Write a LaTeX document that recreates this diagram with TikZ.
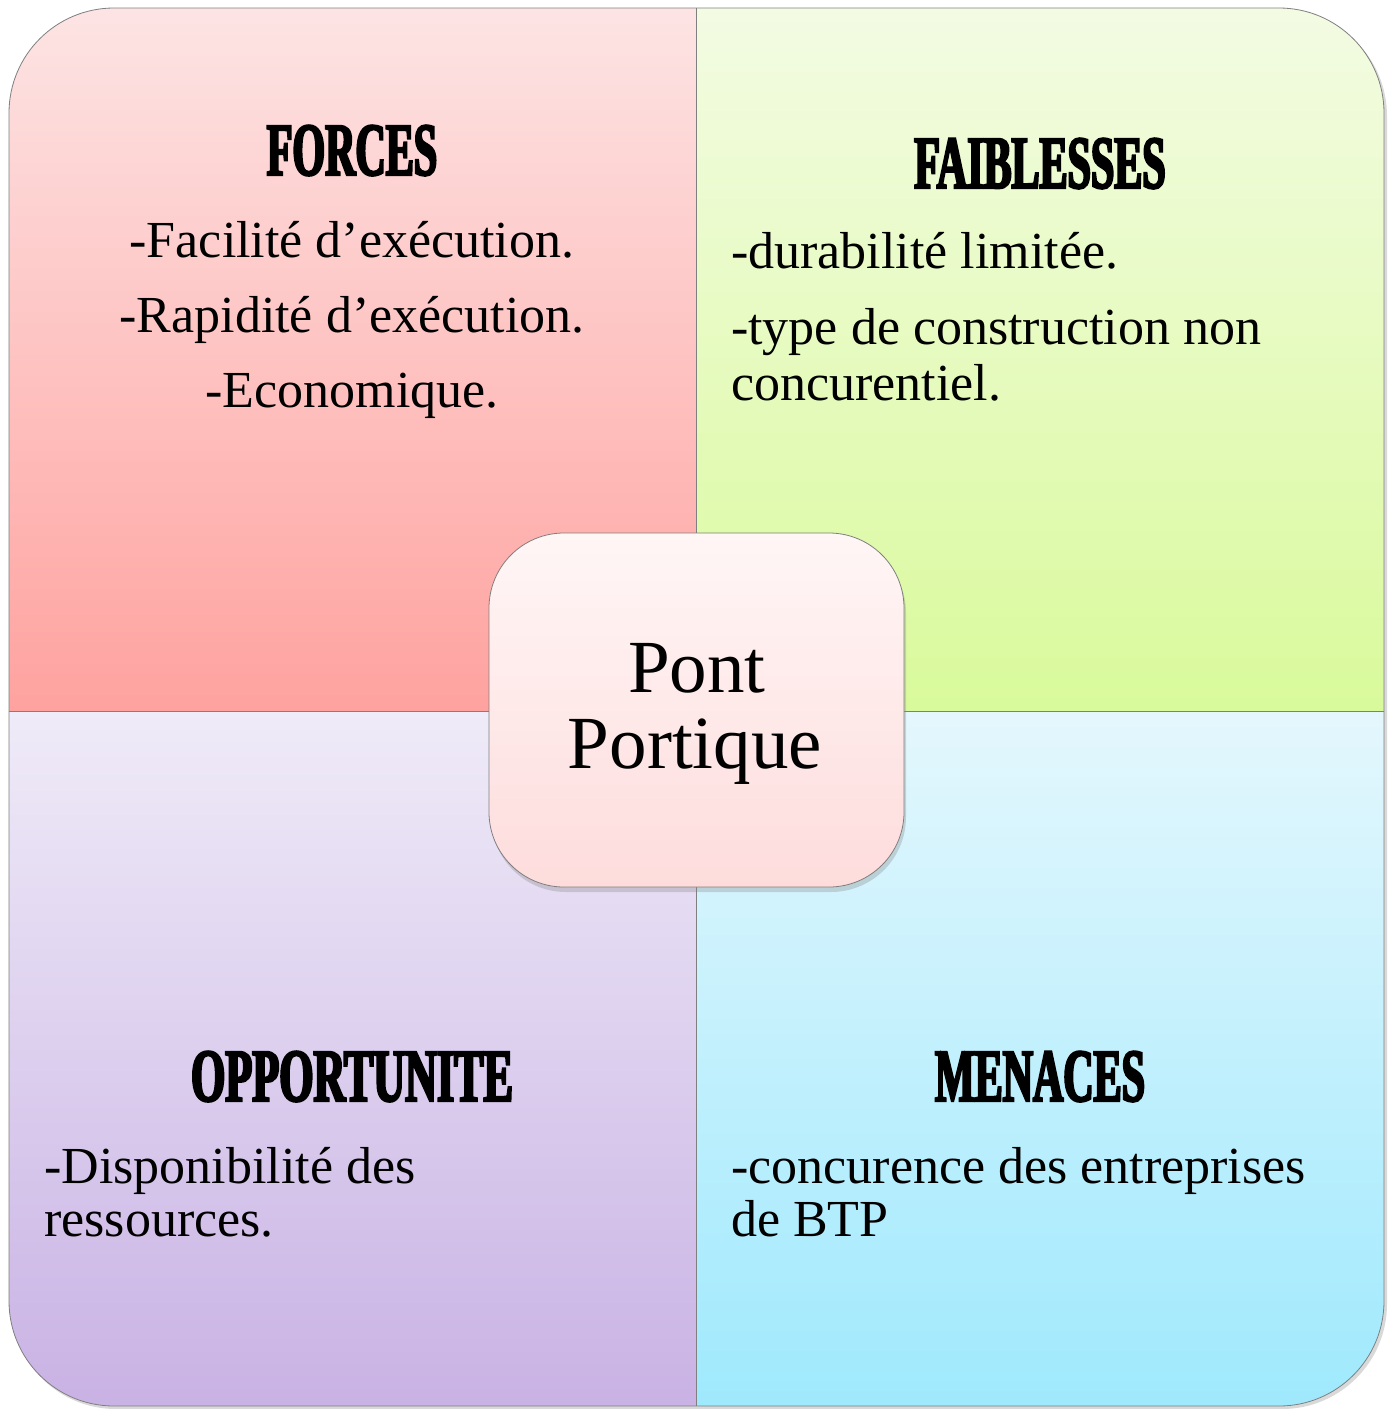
\documentclass[tikz,border=0pt]{standalone}
\usepackage{fontspec}
\setmainfont{Liberation Serif}
\newfontfamily\headfont{Liberation Serif}[FakeStretch=0.56,FakeBold=3]
\usetikzlibrary{shadows}
\definecolor{tltop}{HTML}{FDE4E4}\definecolor{tlbot}{HTML}{FEA29F}
\definecolor{trtop}{HTML}{F3FBE3}\definecolor{trbot}{HTML}{D9FA9B}
\definecolor{bltop}{HTML}{EFEBF8}\definecolor{blbot}{HTML}{C9B2E4}
\definecolor{brtop}{HTML}{E4F7FD}\definecolor{brbot}{HTML}{9FE9FD}
\definecolor{ctop}{HTML}{FFF6F6}\definecolor{cbot}{HTML}{FEDCDC}
\definecolor{edge}{HTML}{7F7F7F}
\tikzset{
  heading/.style={font=\headfont\bfseries\fontsize{75}{75}\selectfont, inner sep=0pt, anchor=base},
  body/.style={font=\fontsize{52}{52}\selectfont, inner sep=0pt},
  bodyc/.style={body, anchor=base},
  bodyl/.style={body, anchor=base west},
  quad/.style={draw=edge, line width=0.8pt},
}
\begin{document}
\begin{tikzpicture}[x=1pt,y=-1pt]
\useasboundingbox (0,0) rectangle (1391,1409);
% outer shadow
\fill[black, opacity=0.15, rounded corners=105pt] (11,11) rectangle (1387,1409);
% quadrants
\begin{scope}
\clip[rounded corners=105pt] (9,8) rectangle (1384,1406);
\shade[top color=tltop, bottom color=tlbot] (9,8) rectangle (696,711);
\shade[top color=trtop, bottom color=trbot] (696,8) rectangle (1384,711);
\shade[top color=bltop, bottom color=blbot] (9,711) rectangle (696,1406);
\shade[top color=brtop, bottom color=brbot] (696,711) rectangle (1384,1406);
\end{scope}
\draw[quad, rounded corners=105pt] (9,8) rectangle (1384,1406);
\draw[quad] (696,8) -- (696,1406);
\draw[quad] (9,711) -- (1384,711);
% centre
\node[draw=edge, line width=0.8pt, rounded corners=75pt, minimum width=415pt, minimum height=354pt,
      top color=ctop, bottom color=cbot,
      drop shadow={opacity=0.3, shadow xshift=2pt, shadow yshift=-5pt}] (centre) at (696.5,710) {};
\node[font=\fontsize{75}{75}\selectfont, inner sep=0pt, anchor=base] (pont) at (697,692) {Pont};
\node[font=\fontsize{75}{75}\selectfont, inner sep=0pt, anchor=base] (portique) at (695,768) {Portique};
% FORCES
\node[heading] (forces) at (352,175) {FORCES};
\node[bodyc] (f1) at (352,257) {-Facilité d’exécution.};
\node[bodyc] (f2) at (352,332) {-Rapidité d’exécution.};
\node[bodyc] (f3) at (352,407) {-Economique.};
% FAIBLESSES
\node[heading] (faib) at (1040,188) {FAIBLESSES};
\node[bodyl] (w1) at (731,268) {-durabilité limitée.};
\node[bodyl] (w2) at (731,344) {-type de construction non};
\node[bodyl] (w3) at (731,400) {concurentiel.};
% OPPORTUNITE
\node[heading, xscale=1.05] (opp) at (352,1101) {OPPORTUNITE};
\node[bodyl] (o1) at (44,1183) {-Disponibilité des};
\node[bodyl] (o2) at (44,1236) {ressources.};
% MENACES
\node[heading] (men) at (1040,1101) {MENACES};
\node[bodyl] (m1) at (731,1183) {-concurence des entreprises};
\node[bodyl] (m2) at (731,1236) {de BTP};
\end{tikzpicture}
\end{document}
